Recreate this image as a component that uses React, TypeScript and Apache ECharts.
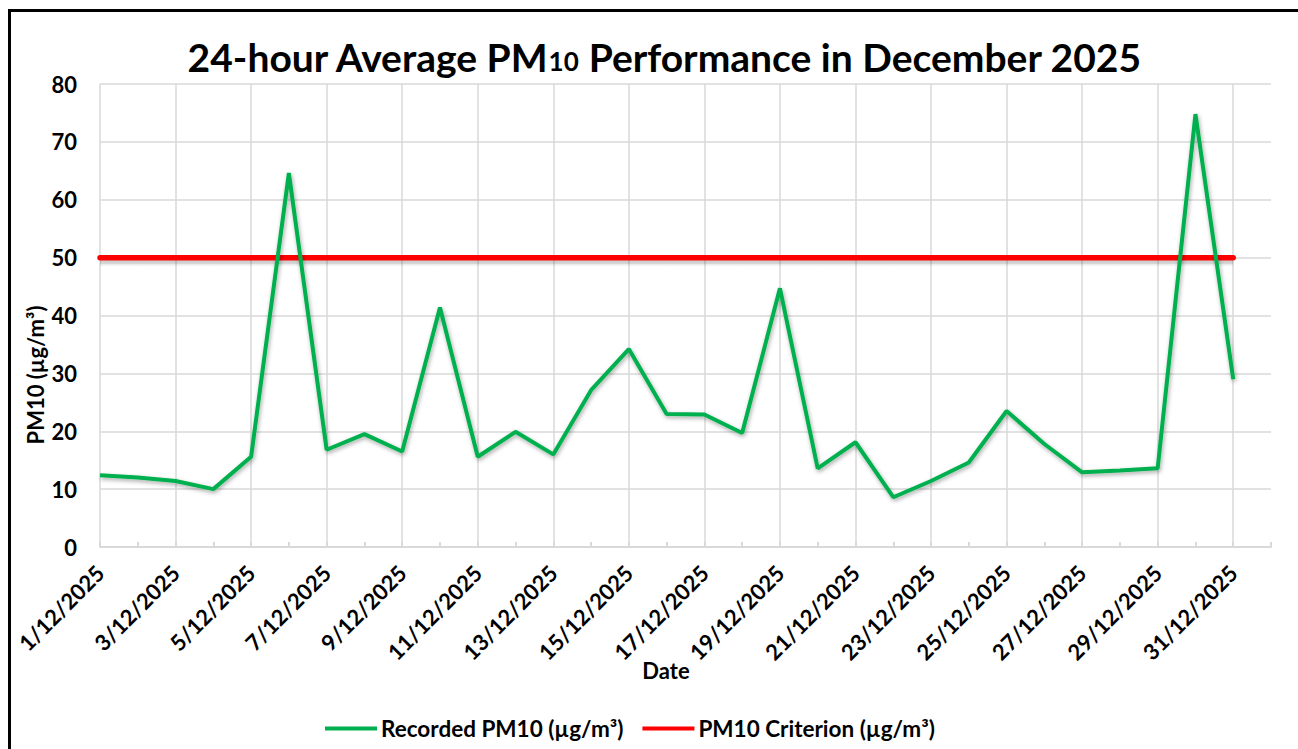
import React, { useEffect, useRef } from "react";
import * as echarts from "echarts";

const dates: string[] = [
  "1/12/2025", "2/12/2025", "3/12/2025", "4/12/2025", "5/12/2025", "6/12/2025",
  "7/12/2025", "8/12/2025", "9/12/2025", "10/12/2025", "11/12/2025", "12/12/2025",
  "13/12/2025", "14/12/2025", "15/12/2025", "16/12/2025", "17/12/2025", "18/12/2025",
  "19/12/2025", "20/12/2025", "21/12/2025", "22/12/2025", "23/12/2025", "24/12/2025",
  "25/12/2025", "26/12/2025", "27/12/2025", "28/12/2025", "29/12/2025", "30/12/2025",
  "31/12/2025", "",
];

const recordedPM10: number[] = [
  12.4, 12.0, 11.4, 10.0, 15.6, 64.6, 16.8, 19.5, 16.5, 41.4, 15.6, 19.9, 16.0, 27.1,
  34.2, 23.0, 22.9, 19.7, 44.7, 13.6, 18.1, 8.6, 11.4, 14.6, 23.5, 17.8, 12.9, 13.2,
  13.6, 74.8, 29.0,
];

const criterion: number[] = [
  50, 50, 50, 50, 50, 50, 50, 50, 50, 50, 50, 50, 50, 50, 50, 50, 50, 50, 50, 50, 50,
  50, 50, 50, 50, 50, 50, 50, 50, 50, 50,
];

const yTicks = { min: 0, max: 80, interval: 10 };

const FONT = "Lato";
const AX = 22;

export default function App() {
  const ref = useRef<HTMLDivElement>(null);
  useEffect(() => {
    if (!ref.current) return;
    const chart = echarts.init(ref.current, null, { renderer: "svg" });
    const shadowItem = (alpha: number, width: number, dy: number) => (params: any, api: any) => {
      const i = api.value(0);
      if (i >= criterion.length - 1) return null;
      const p1 = api.coord([i, criterion[i]]);
      const p2 = api.coord([i + 1, criterion[i + 1]]);
      return {
        type: "line",
        shape: { x1: p1[0], y1: p1[1] + dy, x2: p2[0], y2: p2[1] + dy },
        style: { stroke: `rgba(0,0,0,${alpha})`, lineWidth: width },
        silent: true,
      };
    };
    chart.setOption({
      animation: false,
      backgroundColor: "#ffffff",
      textStyle: { fontFamily: FONT },
      title: {
        text: "{a|24-hour Average PM}{s|10}{a| Performance in December 2025}",
        left: 659,
        textAlign: "center",
        top: 32,
        textStyle: {
          rich: {
            a: { fontSize: 39, fontWeight: "bold", color: "#000", fontFamily: FONT },
            s: { fontSize: 26, fontWeight: "bold", color: "#000", fontFamily: FONT, padding: [9, 0, 0, 0] },
          },
        },
      },
      legend: {
        left: 320,
        top: 712,
        icon: "rect",
        itemWidth: 52,
        itemHeight: 4,
        itemGap: 19,
        textStyle: { fontSize: 22.5, fontWeight: "bold", color: "#000", fontFamily: FONT, padding: [0, 0, 0, -1] },
        data: ["Recorded PM10 (µg/m³)", "PM10 Criterion (µg/m³)"],
      },
      grid: { left: 100, right: 27, top: 84, bottom: 202, containLabel: false },
      xAxis: {
        type: "category",
        data: dates,
        boundaryGap: false,
        axisLine: { show: true, lineStyle: { color: "#D9D9D9", width: 2 } },
        axisTick: { show: true, inside: true, interval: 0, length: 5, lineStyle: { color: "#D9D9D9", width: 2 } },
        axisLabel: {
          interval: 1,
          rotate: 45,
          margin: 22,
          fontSize: AX,
          fontWeight: "bold",
          color: "#000",
          fontFamily: FONT,
        },
        splitLine: { show: true, interval: 1, lineStyle: { color: "#D9D9D9", width: 1.5 } },
      },
      yAxis: {
        type: "value",
        min: yTicks.min,
        max: yTicks.max,
        interval: yTicks.interval,
        axisLine: { show: false },
        axisTick: { show: false },
        axisLabel: { margin: 23, fontSize: AX, fontWeight: "bold", color: "#000", fontFamily: FONT },
        splitLine: { show: true, lineStyle: { color: "#D9D9D9", width: 1.5 } },
      },
      series: [
        {
          name: "criterion-shadow-wide",
          type: "custom",
          data: criterion.map((v, i) => [i, v]),
          renderItem: shadowItem(0.07, 10, 3),
          silent: true,
          z: 1,
        },
        {
          name: "criterion-shadow",
          type: "custom",
          data: criterion.map((v, i) => [i, v]),
          renderItem: shadowItem(0.12, 6, 3),
          silent: true,
          z: 1,
        },
        {
          name: "Recorded PM10 (µg/m³)",
          type: "line",
          data: recordedPM10,
          symbol: "none",
          color: "#00B050",
          lineStyle: {
            color: "#00B050",
            width: 4,
            shadowColor: "rgba(0,0,0,0.35)",
            shadowBlur: 4,
            shadowOffsetY: 2,
            shadowOffsetX: 1,
          },
          z: 3,
        },
        {
          name: "PM10 Criterion (µg/m³)",
          type: "line",
          data: criterion,
          symbol: "none",
          color: "#FF0000",
          lineStyle: { color: "#FF0000", width: 5.5, cap: "round" },
          z: 2,
        },
      ],
      graphic: [
        {
          type: "rect",
          shape: { x: 9.5, y: 10.5, width: 1400, height: 1000 },
          style: { fill: "none", stroke: "#000", lineWidth: 3 },
          silent: true,
        },
        {
          type: "text",
          x: 35,
          y: 375,
          rotation: Math.PI / 2,
          style: {
            text: "PM10 (µg/m³)",
            fontSize: AX,
            fontWeight: "bold",
            fontFamily: FONT,
            fill: "#000",
            align: "center",
            verticalAlign: "middle",
          },
        },
        {
          type: "text",
          x: 666,
          y: 670,
          style: {
            text: "Date",
            fontSize: AX,
            fontWeight: "bold",
            fontFamily: FONT,
            fill: "#000",
            align: "center",
            verticalAlign: "middle",
          },
        },
      ],
    });
    return () => chart.dispose();
  }, []);
  return (
    <div
      ref={ref}
      style={{ position: "absolute", left: 0, top: 0, width: 1298, height: 749 }}
    />
  );
}
